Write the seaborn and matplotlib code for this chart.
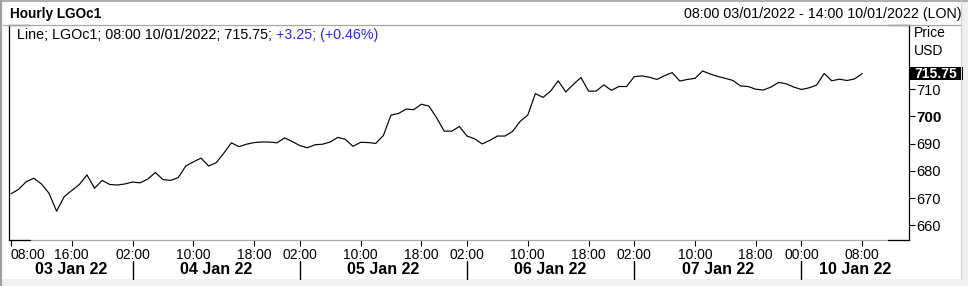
import matplotlib
matplotlib.use("Agg")
import numpy as np
import pandas as pd
import seaborn as sns
import matplotlib.pyplot as plt
from matplotlib.transforms import blended_transform_factory
from matplotlib.lines import Line2D
from matplotlib.patches import Rectangle

# ---------------- data ----------------
days = ["03 Jan 22", "04 Jan 22", "05 Jan 22", "06 Jan 22", "07 Jan 22", "10 Jan 22"]
session_hours = [
    list(range(8, 23)),
    list(range(1, 23)),
    list(range(1, 23)),
    list(range(1, 23)),
    list(range(1, 23)),
    [23] + list(range(0, 15)),
]
prices = [
    671.6, 673.2, 676.0, 677.3, 675.2, 671.8, 665.2, 670.5, 672.8, 675.0,
    678.5, 673.6, 676.5, 675.0, 674.8, 675.2, 675.9, 675.6, 677.0, 679.4,
    676.8, 676.5, 677.5, 681.8, 683.3, 684.7, 681.8, 683.0, 686.5, 690.3,
    688.9, 689.8, 690.4, 690.6, 690.6, 690.3, 692.1, 690.8, 689.3, 688.5,
    689.6, 689.8, 690.6, 692.3, 691.6, 689.0, 690.5, 690.4, 690.1, 693.0,
    700.5, 701.1, 702.7, 702.5, 704.5, 703.8, 699.5, 694.6, 694.6, 696.3,
    692.8, 691.8, 689.9, 691.2, 692.8, 692.8, 694.5, 698.2, 700.5, 708.4,
    707.0, 709.3, 713.1, 709.0, 711.8, 714.3, 709.3, 709.3, 711.6, 709.6,
    711.0, 711.0, 714.6, 714.9, 714.4, 713.6, 715.0, 716.1, 713.0, 713.6,
    714.0, 716.7, 715.6, 714.7, 714.0, 713.2, 711.2, 711.0, 710.0, 709.7,
    710.8, 712.5, 712.0, 710.8, 709.9, 710.5, 711.5, 715.8, 713.1, 713.7,
    713.2, 713.8, 715.75,
]
tick_marks = [
    ("03 Jan 22", "08:00"), ("03 Jan 22", "16:00"),
    ("04 Jan 22", "02:00"), ("04 Jan 22", "10:00"), ("04 Jan 22", "18:00"),
    ("05 Jan 22", "02:00"), ("05 Jan 22", "10:00"), ("05 Jan 22", "18:00"),
    ("06 Jan 22", "02:00"), ("06 Jan 22", "10:00"), ("06 Jan 22", "18:00"),
    ("07 Jan 22", "02:00"), ("07 Jan 22", "10:00"), ("07 Jan 22", "18:00"),
    ("10 Jan 22", "00:00"), ("10 Jan 22", "08:00"),
]
y_ticks = [660, 670, 680, 690, 700, 710]
last_price = 715.75
title = "Hourly LGOc1"
range_text = "08:00 03/01/2022 - 14:00 10/01/2022 (LON)"
legend_black = "Line; LGOc1; 08:00 10/01/2022; 715.75;"
legend_blue = " +3.25; (+0.46%)"

# ---------------- figure ----------------
sns.set_theme(style="white")
plt.rcParams["font.family"] = ["Liberation Sans", "DejaVu Sans"]

W, H = 968, 286
fig = plt.figure(figsize=(W / 100, H / 100), dpi=100)
fig.patch.set_facecolor("white")


def fx(px):
    return px / W


def fy(py):
    return 1 - py / H


ax = fig.add_axes([fx(9), fy(240), fx(909) - fx(9), fy(25) - fy(240)])
ax.set_facecolor("white")

slots = [(d, h) for d, hrs in zip(days, session_hours) for h in hrs]
pos = {s: i for i, s in enumerate(slots)}
df = pd.DataFrame({"slot": np.arange(len(prices)), "price": prices})

sns.lineplot(data=df, x="slot", y="price", color="black", linewidth=0.85, ax=ax)
ax.set_xlabel("")
ax.set_ylabel("")

# x ticks
xt = [pos[(d, int(h[:2]))] for d, h in tick_marks]
ax.set_xticks(xt)
ax.set_xticklabels([h for _, h in tick_marks])
ax.tick_params(axis="x", bottom=True, top=False, direction="out", length=4,
               width=0.8, color="black", pad=2, labelsize=10, labelcolor="black")
first = ax.get_xticklabels()[0]
first.set_horizontalalignment("left")

# y ticks on the right
ax.yaxis.tick_right()
ax.set_yticks(y_ticks)
ax.set_yticklabels([str(v) for v in y_ticks])
ax.tick_params(axis="y", right=True, left=False, direction="out", length=4,
               width=0.8, color="black", pad=1.5, labelsize=10.5, labelcolor="black")
for lab in ax.get_yticklabels():
    if lab.get_text() == "700":
        lab.set_fontweight("bold")
        lab.set_fontsize(11)

# spines
for s in ["left", "right"]:
    ax.spines[s].set_color("black")
    ax.spines[s].set_linewidth(0.9)
ax.spines["top"].set_visible(False)
ax.spines["bottom"].set_color("#a8a8a8")
ax.spines["bottom"].set_linewidth(0.9)

# black corner segments on the frame
cw = 21 / 900
for (x0, x1) in [(0, cw), (1 - cw, 1)]:
    for yy in [0, 1]:
        ax.add_line(Line2D([x0, x1], [yy, yy], transform=ax.transAxes,
                           color="black", lw=0.9, clip_on=False, zorder=5))

# day labels and separators
trans = blended_transform_factory(ax.transData, fig.transFigure)
xmin, xmax = -0.26, len(slots) - 1 + 0.16
day_starts = []
for d in days[1:]:
    first_tick = min(pos[(dd, int(h[:2]))] for dd, h in tick_marks if dd == d)
    day_starts.append(first_tick)
bounds = [xmin] + day_starts + [xmax]
for i, d in enumerate(days):
    cx = (bounds[i] + bounds[i + 1]) / 2
    ax.text(cx, fy(269), d, transform=trans, ha="center", va="center",
            fontsize=11.5, fontweight="bold", color="black", clip_on=False)
for sx in day_starts:
    ax.add_line(Line2D([sx, sx], [fy(261), fy(279)], transform=trans,
                       color="black", lw=1.0, clip_on=False))

ax.set_xlim(xmin, xmax)
ax.set_ylim(654.6, 733.6)

# last price box
btrans = blended_transform_factory(ax.transAxes, ax.transData)
ax.add_patch(Rectangle((1.0, last_price - 2.25), 54 / 900, 4.5, transform=btrans,
                       facecolor="black", edgecolor="none", clip_on=False, zorder=6))
ax.text(1.0 + 27 / 900, last_price, f"{last_price:.2f}", transform=btrans,
        ha="center", va="center", color="white", fontweight="bold", fontsize=10,
        clip_on=False, zorder=7)

# legend line inside the plot
t1 = ax.text(8 / 900, (240 - 35) / 215, legend_black, transform=ax.transAxes,
             ha="left", va="center", fontsize=10.3, color="black")
ax.annotate(legend_blue, xy=(1, 0), xycoords=t1, ha="left", va="bottom",
            fontsize=10.3, color="#2a2ae6")

# header texts
fig.text(fx(10), fy(14), title, ha="left", va="center", fontsize=9.8,
         fontweight="bold", color="black")
fig.text(fx(962), fy(14), range_text, ha="right", va="center", fontsize=10.3,
         color="black")
fig.text(fx(914), fy(33), "Price", ha="left", va="center", fontsize=10, color="black")
fig.text(fx(914), fy(51), "USD", ha="left", va="center", fontsize=10, color="black")

# window frame
fig.add_artist(Line2D([fx(3), fx(961)], [fy(25), fy(25)], color="#a8a8a8", lw=0.9))
fig.add_artist(Rectangle((0, 0), 1, fy(279), facecolor="#f0f0f0", edgecolor="none",
                         transform=fig.transFigure, zorder=-1))
fig.add_artist(Rectangle((fx(961), 0), 1 - fx(961), 1, facecolor="#f0f0f0",
                         edgecolor="none", transform=fig.transFigure, zorder=-1))
fig.add_artist(Line2D([0, 1], [fy(0.5), fy(0.5)], color="#a0a0a0", lw=1.2))
fig.add_artist(Line2D([fx(0.8), fx(0.8)], [0, 1], color="#a0a0a0", lw=1.6))
fig.add_artist(Line2D([fx(961), fx(961)], [fy(279), 1], color="#d0d0d0", lw=0.8))

fig.savefig("out.png", dpi=100, facecolor="white")
